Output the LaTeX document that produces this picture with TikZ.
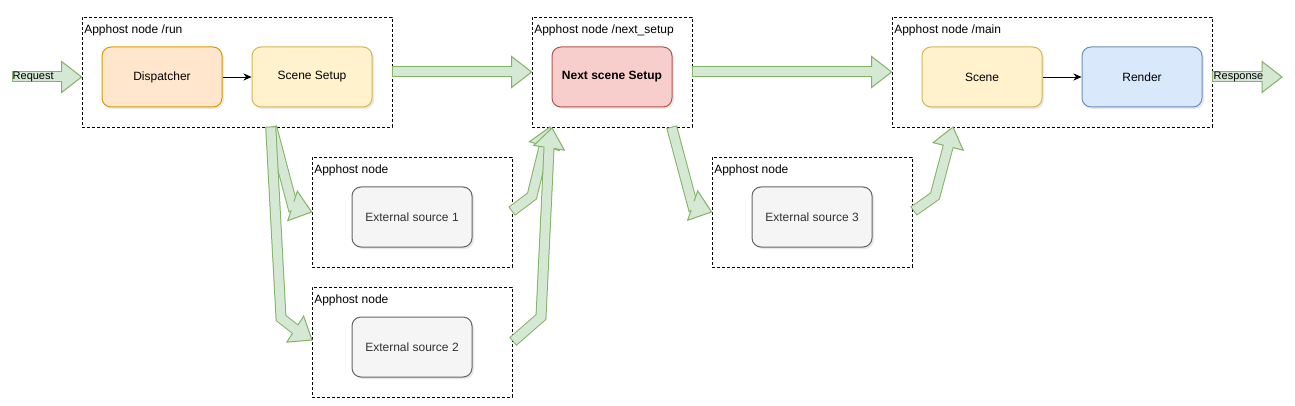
\documentclass[tikz,border=0pt]{standalone}
\usepackage{fontspec}
\setmainfont{Liberation Sans}
\usetikzlibrary{calc,shadows,arrows.meta}
\definecolor{arrf}{HTML}{D5E8D4}
\definecolor{arrs}{HTML}{82B366}
\definecolor{orf}{HTML}{FFE6CC}
\definecolor{ors}{HTML}{D79B00}
\definecolor{yef}{HTML}{FFF2CC}
\definecolor{yes}{HTML}{D6B656}
\definecolor{ref}{HTML}{F8CECC}
\definecolor{res}{HTML}{B85450}
\definecolor{blf}{HTML}{DAE8FC}
\definecolor{bls}{HTML}{6C8EBF}
\definecolor{grf}{HTML}{F5F5F5}
\definecolor{grs}{HTML}{666666}
\definecolor{grt}{HTML}{333333}
\newcommand\flexarrow[3]{%
  \coordinate (fhC) at ($(#3)!20pt!(#2)$);
  \draw[fshaft] #1 -- (fhC);
  \filldraw[fhead] (#3) -- ($(fhC)!15.5pt!90:(#3)$) -- ($(fhC)!15.5pt!-90:(#3)$) -- cycle;
  \draw[line width=9pt,draw=arrf] ($(fhC)!1.2pt!(#2)$) -- ($(fhC)!-1.2pt!(#2)$);
}
\tikzset{
  cont/.style={draw=black, line width=0.8pt, dash pattern=on 3pt off 2pt, inner sep=0pt, minimum width=#1, minimum height=110pt},
  cont/.default=310pt,
  clabel/.style={anchor=west, inner sep=0pt, font=\fontsize{12}{14}\selectfont},
  box/.style={rounded corners=9pt, line width=1pt, minimum width=120pt, minimum height=60pt, inner sep=0pt, font=\fontsize{12}{14}\selectfont,
    drop shadow={shadow xshift=2pt, shadow yshift=-2pt, opacity=0.18, fill=gray}},
  extbox/.style={box, fill=grf, draw=grs, text=grt},
  fshaft/.style={draw=arrs, line width=1pt, double=arrf, double distance=9pt, line cap=rect, line join=miter},
  fhead/.style={fill=arrf, draw=arrs, line width=1pt, line join=miter},
  alabel/.style={anchor=west, inner sep=0pt, font=\fontsize{11}{13}\selectfont},
  link/.style={-{Stealth[length=8pt,width=7pt]}, line width=0.8pt}
}
\begin{document}
\begin{tikzpicture}[x=1pt,y=-1pt]
\useasboundingbox[fill=white] (0,0) rectangle (1295,406);
% containers
\node[cont=310pt] (crun) at (237,72) {};
\node[cont=160pt] (cnext) at (612,72) {};
\node[cont=320pt] (cmain) at (1052,72) {};
\node[cont=200pt] (cext1) at (412,212) {};
\node[cont=200pt] (cext2) at (412,342) {};
\node[cont=200pt] (cext3) at (812,212) {};
\node[clabel] (lrun) at ($(crun.north west)+(2.5,14)$) {Apphost node /run};
\node[clabel] (lnext) at ($(cnext.north west)+(2.5,14)$) {Apphost node /next\_setup};
\node[clabel] (lmain) at ($(cmain.north west)+(2.5,14)$) {Apphost node /main};
\node[clabel] (lext1) at ($(cext1.north west)+(2.5,14)$) {Apphost node};
\node[clabel] (lext2) at ($(cext2.north west)+(2.5,14)$) {Apphost node};
\node[clabel] (lext3) at ($(cext3.north west)+(2.5,14)$) {Apphost node};
% boxes
\node[box, fill=orf, draw=ors] (disp) at (162,77) {Dispatcher};
\node[box, fill=yef, draw=yes] (ss) at (312,77) {Scene Setup};
\node[box, fill=ref, draw=res, font=\fontsize{12}{14}\selectfont\bfseries] (nss) at (612,77) {Next scene Setup};
\node[box, fill=yef, draw=yes] (scene) at (982,77) {Scene};
\node[box, fill=blf, draw=bls] (render) at (1142,77) {Render};
\node[extbox] (es1) at (412,217) {External source 1};
\node[extbox] (es2) at (412,347) {External source 2};
\node[extbox] (es3) at (812,217) {External source 3};
% thin links
\draw[link] (disp) -- (ss);
\draw[link] (scene) -- (render);
% flex arrow coordinates
\coordinate (rq1) at (17.5,77); \coordinate (rq2) at (crun.west |- 0,77);
\coordinate (g1) at (397.5,72); \coordinate (g2) at (cnext.west |- 0,72);
\coordinate (h1) at (697.5,72); \coordinate (h2) at (cmain.west |- 0,72);
\coordinate (rs1) at (1217.5,77); \coordinate (rs2) at (1282,77);
\coordinate (a1) at (273,132); \coordinate (a2) at (293,206); \coordinate (a3) at (cext1.west);
\coordinate (b1) at (271,132); \coordinate (b2) at (281,318); \coordinate (b3) at (295,329); \coordinate (b4) at (312,340);
\coordinate (c1) at (516,208); \coordinate (c2) at (532,196); \coordinate (c3) at (544,147); \coordinate (c4) at (550,127);
\coordinate (d1) at (517,338); \coordinate (d2) at (541,317); \coordinate (d3) at (549,148); \coordinate (d4) at (552,128);
\coordinate (e1) at (673,132); \coordinate (e2) at (694,206); \coordinate (e3) at (cext3.west);
\coordinate (f1) at (918,208); \coordinate (f2) at (935,196); \coordinate (f3) at (948,147); \coordinate (f4) at (953,127);
% flex arrows
\flexarrow{(rq1)}{rq1}{rq2}
\flexarrow{(g1)}{g1}{g2}
\flexarrow{(h1)}{h1}{h2}
\flexarrow{(rs1)}{rs1}{rs2}
\flexarrow{(a1)}{a2}{a3}
\flexarrow{(b1) -- (b2)}{b3}{b4}
\flexarrow{(c1) -- (c2)}{c3}{c4}
\flexarrow{(d1) -- (d2)}{d3}{d4}
\flexarrow{(e1)}{e2}{e3}
\flexarrow{(f1) -- (f2)}{f3}{f4}
% arrow labels
\node[alabel] (lreq) at (12.5,77) {Request};
\node[alabel] (lres) at (1213.5,77) {Response};
\end{tikzpicture}
\end{document}
